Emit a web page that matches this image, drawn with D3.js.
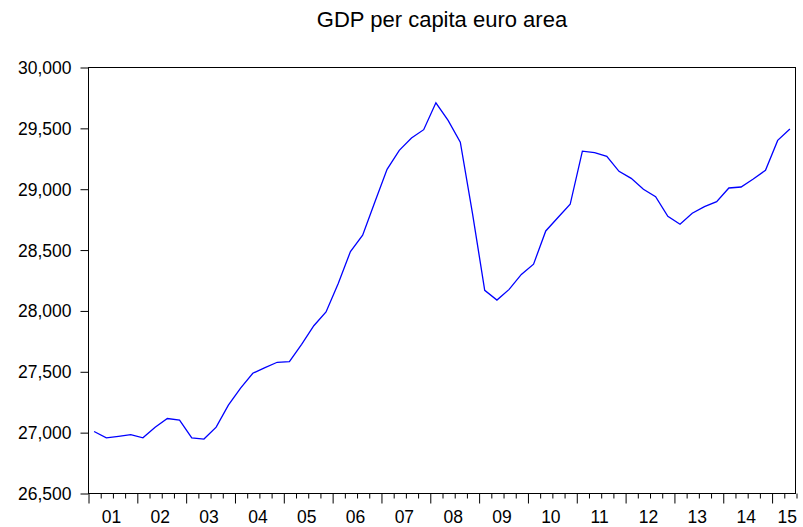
<!DOCTYPE html>
<html>
  <head>
    <meta charset="utf-8">
    <title>GDP per capita euro area</title>
    <style media="screen">
    body{margin: 0; background: #fff}
    text {font-family: Arial, "Liberation Sans", sans-serif; fill: #000}
    </style>
  </head>
  <body>

    <script src="https://d3js.org/d3.v7.min.js"></script>

    <script type="text/javascript">
      // quarterly, 2001Q1 .. 2015Q2
      var years = ['01','02','03','04','05','06','07','08','09','10','11','12','13','14','15']
      var gdp = [
        27005, 26953, 26966, 26980,
        26953, 27041, 27112, 27099,
        26953, 26943, 27041, 27222,
        27361, 27484, 27530, 27574,
        27579, 27722, 27874, 27987,
        28222, 28484, 28618, 28891,
        29159, 29315, 29416, 29485,
        29706, 29561, 29383, 28796,
        28165, 28085, 28173, 28296,
        28380, 28653, 28763, 28872,
        29309, 29296, 29266, 29143,
        29085, 28995, 28935, 28774,
        28708, 28798, 28853, 28894,
        29006, 29014, 29080, 29151,
        29397, 29490
      ]
      var yTicks = [26500, 27000, 27500, 28000, 28500, 29000, 29500, 30000]
      var title = 'GDP per capita euro area'

      var w = 803, h = 527
      // (don't call it "top", that's window.top)
      var pl = 88, pr = 796, pt = 67, pb = 493

      var svg = d3.select('body').append('svg')
        .attr('width', w)
        .attr('height', h)

      var x = d3.scaleLinear().domain([0, gdp.length]).range([pl, pr])
      var y = d3.scaleLinear().domain([26500, 30000]).range([pb, pt])

      svg.append('text')
        .attr('x', (pl + pr) / 2)
        .attr('y', 27)
        .attr('text-anchor', 'middle')
        .style('font-size', '22px')
        .text(title)

      // frame
      svg.append('rect')
        .attr('x', pl + .5)
        .attr('y', pt + .5)
        .attr('width', pr - pl - 1)
        .attr('height', pb - pt)
        .attr('fill', 'none')
        .attr('stroke', '#000')

      // y axis
      var yAxis = svg.append('g')
        .attr('transform', 'translate(' + (pl + .5) + ',.5)')
        .call(d3.axisLeft(y).tickValues(yTicks).tickSize(8).tickPadding(9).tickFormat(d3.format(',')))
      yAxis.select('.domain').remove()
      yAxis.selectAll('text')
        .style('font-size', '17.5px')
        .style('font-family', 'Arial, "Liberation Sans", sans-serif')
        .attr('fill', '#000')
        .attr('dy', '.34em')

      // x axis: quarter ticks, year ticks longer
      var q = d3.range(0, gdp.length + 1)
      var xMinor = svg.append('g')
        .attr('transform', 'translate(.5,' + (pb + .5) + ')')
        .call(d3.axisBottom(x).tickValues(q.filter(function(d){ return d % 4 })).tickSize(5).tickFormat(''))
      xMinor.select('.domain').remove()
      var xMajor = svg.append('g')
        .attr('transform', 'translate(.5,' + (pb + .5) + ')')
        .call(d3.axisBottom(x).tickValues(q.filter(function(d){ return d % 4 == 0 })).tickSize(10).tickFormat(''))
      xMajor.select('.domain').remove()

      svg.append('g').selectAll('text')
        .data(years)
        .enter()
          .append('text')
          .style('font-size', '17.5px')
          .attr('y', 522.5)
          .each(function(d, i){
            var cx = x(i * 4 + 2)
            var el = d3.select(this).text(d)
            var hw = this.getComputedTextLength() / 2
            if(cx + hw > pr) el.attr('x', pr + 1).attr('text-anchor', 'end')
            else el.attr('x', cx - 1).attr('text-anchor', 'middle')
          })

      var line = d3.line()
        .x(function(d, i){ return x(i + .5) })
        .y(function(d){ return y(d) })

      svg.append('path')
        .datum(gdp)
        .attr('d', line)
        .attr('fill', 'none')
        .attr('stroke', '#0000ff')
        .attr('stroke-width', 1.3)
    </script>

  </body>
</html>
